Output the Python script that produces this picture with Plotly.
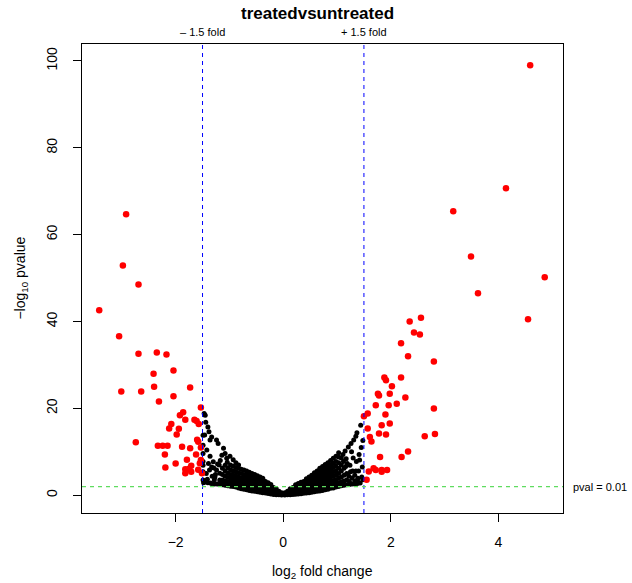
import plotly.graph_objects as go

# ---------------- data ----------------
# significant genes (|log2FC| > 1.5 and p < 0.01), plotted in red
red_lfc = [4.59, 4.14, 3.16, 3.49, 4.86, 3.62, 2.56, 4.55, 2.54, 2.35, 2.43, 2.19, 2.32, 2.80,
           1.88, 1.91, 2.19, 2.02, 1.76, 1.78, 1.98, 2.27, 2.11, 1.72, 1.96, 2.80, 1.57, 1.50,
           1.90, 1.83, 1.98, 1.57, 1.78, 1.91, 2.63, 2.82, 1.61, 1.64, 2.32, 1.80, 2.20, 1.68,
           1.72, 1.83, 1.83, 1.93, 1.59, 1.55,
           -2.92, -2.98, -2.69, -3.42, -3.05, -2.69, -2.35, -2.17, -2.41, -2.04, -2.40, -1.73,
           -3.01, -2.64, -2.31, -2.04, -1.53, -1.86, -1.92, -1.82, -1.65, -1.61, -1.57, -2.08,
           -2.12, -1.94, -1.98, -1.60, -1.58, -2.74, -2.33, -2.24, -2.15, -1.88, -1.73, -1.53,
           -2.20, -1.62, -1.79, -1.53, -1.55, -2.00, -1.71, -2.19, -1.82, -1.75, -1.58, -1.82,
           -1.71, -1.51]
red_nlp = [99.0, 70.7, 65.4, 55.0, 50.2, 46.5, 40.9, 40.5, 37.0, 40.0, 37.5, 35.0, 32.0, 30.8,
           27.1, 26.5, 27.1, 25.1, 23.4, 23.0, 23.4, 22.5, 21.1, 20.7, 20.7, 20.0, 18.8, 18.2,
           18.6, 16.1, 16.5, 15.4, 14.2, 14.0, 13.6, 14.1, 13.4, 12.4, 10.1, 8.8, 8.8, 6.2,
           5.8, 5.8, 5.4, 5.8, 5.5, 3.6,
           64.7, 52.9, 48.5, 42.6, 36.6, 32.6, 32.9, 32.4, 28.0, 28.7, 25.0, 24.8,
           23.9, 23.9, 21.6, 22.8, 20.2, 19.1, 18.4, 17.4, 17.4, 17.1, 16.4, 16.4,
           15.4, 15.3, 14.0, 12.8, 12.3, 12.2, 11.4, 11.4, 11.4, 11.2, 10.8, 11.0,
           9.4, 9.4, 8.2, 8.1, 7.4, 7.3, 6.8, 6.4, 6.0, 6.1, 5.9, 5.1,
           5.4, 5.1]

# dense core of non-significant genes, read column by column
core_lfc = [0.03, 0.08, 0.13, 0.18, 0.23, 0.28, 0.33, 0.38, 0.43, 0.48, 0.53, 0.58, 0.63, 0.68,
            0.73, 0.78, 0.83, 0.88, 0.93, 0.98, 1.03, 1.08, 1.13, 1.18, 1.23, 1.28, 1.33, 1.38,
            1.43,
            -0.03, -0.08, -0.13, -0.18, -0.23, -0.28, -0.33, -0.38, -0.43, -0.48, -0.53, -0.58,
            -0.63, -0.68, -0.73, -0.78, -0.83, -0.88, -0.93, -0.98, -1.03, -1.08, -1.13, -1.18,
            -1.23, -1.28, -1.33]
core_nlp = [
    [0.05, 0.3, 0.6], [0.1, 0.5, 0.9], [0.15, 0.6, 1.1, 1.5], [0.2, 0.7, 1.2, 1.8],
    [0.25, 0.8, 1.4, 2.0, 2.4], [0.3, 0.9, 1.5, 2.1, 2.7], [0.35, 1.0, 1.6, 2.3, 3.0],
    [0.45, 1.1, 1.8, 2.5, 3.2], [0.5, 1.2, 1.9, 2.6, 3.3, 3.8], [0.6, 1.3, 2.0, 2.8, 3.5, 4.2],
    [0.7, 1.4, 2.2, 3.0, 3.8, 4.6], [0.8, 1.5, 2.3, 3.1, 3.9, 4.7, 5.2],
    [0.9, 1.7, 2.5, 3.3, 4.1, 4.9, 5.6], [1.0, 1.8, 2.6, 3.4, 4.2, 5.0, 5.8, 6.2],
    [1.1, 1.9, 2.8, 3.6, 4.5, 5.3, 6.1, 6.6], [1.3, 2.1, 2.9, 3.8, 4.7, 5.6, 6.4, 7.1],
    [1.4, 2.2, 3.1, 4.0, 4.9, 5.8, 6.7, 7.5], [1.6, 2.4, 3.3, 4.2, 5.1, 6.0, 7.0, 8.0],
    [1.7, 2.5, 3.4, 4.4, 5.4, 6.4, 7.4, 8.5], [1.9, 2.7, 3.6, 4.6, 5.6, 6.7, 7.8, 9.0],
    [2.0, 2.9, 3.9, 5.0, 6.2, 7.5, 8.8, 9.8], [2.2, 3.1, 4.2, 5.6, 7.0, 8.6],
    [2.3, 3.3, 4.6, 6.2], [2.4, 3.5, 5.0], [2.5, 3.2], [2.6, 4.0], [2.6, 3.3], [2.7, 3.5],
    [2.8],
    [0.05, 0.3, 0.6], [0.1, 0.5, 0.9], [0.15, 0.6, 1.1, 1.5], [0.2, 0.7, 1.2, 1.8],
    [0.3, 0.9, 1.5, 2.1, 2.5], [0.4, 1.0, 1.6, 2.3, 2.9], [0.5, 1.1, 1.8, 2.5, 3.2],
    [0.6, 1.3, 2.0, 2.7, 3.5, 3.9], [0.7, 1.4, 2.1, 2.9, 3.7, 4.2],
    [0.8, 1.5, 2.3, 3.1, 3.9, 4.5], [0.9, 1.7, 2.5, 3.3, 4.1, 4.8],
    [1.0, 1.8, 2.6, 3.4, 4.3, 5.0], [1.1, 1.9, 2.7, 3.6, 4.5, 5.3],
    [1.3, 2.1, 2.9, 3.8, 4.7, 5.6], [1.4, 2.2, 3.0, 3.9, 4.8, 5.8],
    [1.5, 2.3, 3.1, 4.0, 5.0, 6.0], [1.7, 2.5, 3.3, 4.2, 5.2, 6.2, 7.0],
    [1.9, 2.7, 3.5, 4.4, 5.4, 6.4, 7.5], [2.0, 2.8, 3.7, 4.6, 5.6, 6.7],
    [2.1, 3.0, 3.9, 4.8, 5.9, 7.0], [2.2, 3.1, 4.1, 5.1, 6.3], [2.3, 3.3, 4.4, 5.6],
    [2.4, 3.5, 4.8], [2.5, 3.5], [2.6], [2.6, 3.6], [2.7],
]

# scattered non-significant genes near the fold-change cut-offs
spread_lfc = [1.44, 1.37, 1.35, 1.31, 1.26, 1.21, 1.15, 1.27, 1.42, 1.35, 1.25, 1.46, 1.39, 1.24,
              1.11, 1.19, 1.30, 1.36, 1.41, 1.45, 1.48, 1.47, 1.29, 1.33, 1.17, 1.40, 1.48, 1.16,
              1.22, 1.12,
              -0.93, -0.99, -1.04, -1.05, -1.08, -1.11, -1.14, -1.08, -1.13, -1.18, -1.19, -1.17,
              -1.21, -1.24, -1.24, -1.27, -1.22, -1.30, -1.29, -1.33, -1.33, -1.32, -1.36, -1.38,
              -1.36, -1.39, -1.40, -1.41, -1.42, -1.43, -1.45, -1.47, -1.49, -1.49, -1.48, -1.49,
              -1.49, -1.46, -1.44, -1.35, -1.40, -1.45, -1.15, -1.26, -1.37, -1.49, -1.49, -1.49]
spread_nlp = [16.1, 14.4, 13.6, 12.7, 11.9, 11.1, 10.2, 10.0, 8.1, 5.6, 5.4, 4.2, 3.9, 6.9,
              9.4, 7.3, 8.6, 7.8, 9.4, 11.0, 12.6, 6.5, 5.6, 4.6, 8.4, 5.6, 3.6, 6.6,
              4.4, 7.8,
              8.2, 9.0, 7.6, 8.5, 9.6, 10.8, 9.2, 6.9, 6.2, 5.1, 7.0, 8.0,
              11.9, 12.7, 5.8, 4.2, 7.2, 7.7, 6.3, 6.5, 13.4, 4.4, 9.0, 14.6,
              12.7, 7.3, 15.7, 3.7, 10.4, 5.0, 18.4, 18.8, 5.4, 3.5, 2.9, 7.8,
              11.5, 13.9, 16.8, 2.8, 2.9, 3.1, 3.0, 4.8, 5.8, 13.8, 9.6, 6.9]

fc_cut = 1.5          # vertical lines at +/- 1.5
p_cut_nlp = 2         # -log10(0.01)
x_ticks = [-2, 0, 2, 4]
y_ticks = [0, 20, 40, 60, 80, 100]
title_text = "treatedvsuntreated"

# ---------------- build ----------------
black_x, black_y = [], []
for xv, ys in zip(core_lfc, core_nlp):
    for yv in ys:
        black_x.append(xv)
        black_y.append(yv)
black_x += spread_lfc
black_y += spread_nlp

FONT = "Liberation Sans, Arial, sans-serif"

fig = go.Figure()
fig.add_trace(go.Scatter(x=black_x, y=black_y, mode="markers",
                         marker=dict(color="black", size=5, line=dict(width=0)),
                         hoverinfo="skip"))
fig.add_trace(go.Scatter(x=red_lfc, y=red_nlp, mode="markers",
                         marker=dict(color="#ff0000", size=6.5, line=dict(width=0)),
                         hoverinfo="skip"))

for xv in (-fc_cut, fc_cut):
    fig.add_shape(type="line", xref="x", yref="paper", x0=xv, x1=xv, y0=0, y1=1,
                  line=dict(color="#0000ff", width=1, dash="4px,4px"))
fig.add_shape(type="line", xref="paper", yref="y", x0=0, x1=1, y0=p_cut_nlp, y1=p_cut_nlp,
              line=dict(color="#5fdc5f", width=1.2, dash="4px,4px"))

fig.update_layout(
    width=632, height=583, autosize=False,
    margin=dict(l=82, r=69, t=44, b=70, pad=0),
    plot_bgcolor="white", paper_bgcolor="white",
    showlegend=False,
    font=dict(family=FONT, color="black", size=14),
    xaxis=dict(range=[-3.74, 5.20], tickvals=x_ticks, ticks="outside", ticklen=8,
               tickwidth=1, tickcolor="black", showline=True, linecolor="black",
               linewidth=1, mirror=True, showgrid=False, zeroline=False,
               automargin=False, tickfont=dict(size=14), ticklabelstandoff=8),
    yaxis=dict(range=[-4.08, 103.9], tickvals=y_ticks, ticks="outside", ticklen=8,
               tickwidth=1, tickcolor="black", showline=True, linecolor="black",
               linewidth=1, mirror=True, showgrid=False, zeroline=False,
               automargin=False, tickangle=-90, tickfont=dict(size=14),
               ticklabelstandoff=10),
)

annotations = [
    dict(text="<b>" + title_text + "</b>", xref="paper", yref="paper", x=0.49,
         y=1 + 30 / 469, xanchor="center", yanchor="middle", showarrow=False,
         font=dict(size=17)),
    dict(text="\u2013 1.5 fold", xref="x", yref="paper", x=-fc_cut, y=1 + 12 / 469,
         xanchor="center", yanchor="middle", showarrow=False, font=dict(size=11)),
    dict(text="+ 1.5 fold", xref="x", yref="paper", x=fc_cut, y=1 + 12 / 469,
         xanchor="center", yanchor="middle", showarrow=False, font=dict(size=11)),
    dict(text="pval = 0.01", xref="paper", yref="y", x=1 + 8 / 481.6, y=p_cut_nlp,
         xanchor="left", yanchor="middle", showarrow=False, font=dict(size=11)),
    dict(text="log<sub>2</sub> fold change", xref="paper", yref="paper", x=0.5,
         y=-59 / 469, xanchor="center", yanchor="middle", showarrow=False,
         font=dict(size=14)),
    dict(text="\u2212log<sub>10</sub> pvalue", xref="paper", yref="paper",
         x=-62 / 481.6, y=0.5, xanchor="center", yanchor="middle", textangle=-90,
         showarrow=False, font=dict(size=14)),
]
fig.update_layout(annotations=annotations)

fig.write_html("out.html", config={"displayModeBar": False},
               post_script="document.body.style.margin='0px';document.body.style.padding='0px';")
